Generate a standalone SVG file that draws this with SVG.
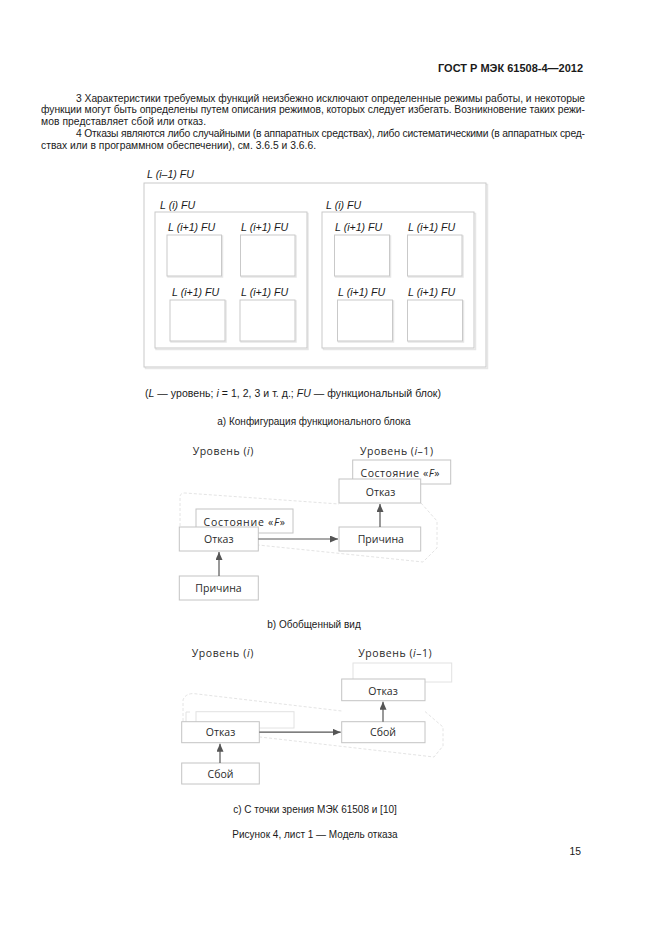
<svg xmlns="http://www.w3.org/2000/svg" width="661" height="935" viewBox="0 0 661 935">
<defs>
<style>
.t{font-family:"Liberation Sans",Arial,sans-serif;fill:#1a1a1a}
.p{font-size:10.3px}
.h{font-size:10.5px;font-weight:bold}
.c{font-size:10px}
.lg{font-size:10.5px}
.fu{font-family:"Liberation Sans",Arial,sans-serif;font-size:10.6px;font-style:italic;fill:#1a1a1a}
.box{fill:#fff;stroke:#c9c9c9;stroke-width:1}
.sh{fill:none;stroke:#e6e6e6;stroke-width:1.5}
.nb{fill:#fff;stroke:#c4c4c4;stroke-width:1}
.nt{font-family:"Open Sans","Noto Sans","DejaVu Sans",sans-serif;font-size:10.5px;fill:#2a2a2a;text-anchor:middle}
.lv{font-family:"Open Sans","Noto Sans","DejaVu Sans",sans-serif;font-size:10.5px;fill:#2a2a2a}
.ghost{fill:none;stroke:#e2e2e2;stroke-width:1}
.dash{fill:none;stroke:#e4e4e4;stroke-width:1;stroke-dasharray:3 2}
.ar{fill:none;stroke:#555;stroke-width:1.2}
</style>
<marker id="ah" markerWidth="8" markerHeight="7" refX="8" refY="3.5" orient="auto" markerUnits="userSpaceOnUse">
<path d="M0,0 L8,3.5 L0,7 z" fill="#555"/>
</marker>
</defs>
<rect width="661" height="935" fill="#fff"/>

<g id="header">
<text class="t h" x="583" y="72" text-anchor="end" textLength="145" lengthAdjust="spacingAndGlyphs">ГОСТ Р МЭК 61508-4—2012</text>
</g>
<g id="notes">
<text class="t p" x="76" y="101.5" textLength="509" lengthAdjust="spacing">3 Характеристики требуемых функций неизбежно исключают определенные режимы работы, и некоторые</text>
<text class="t p" x="41" y="113" textLength="544" lengthAdjust="spacing">функции могут быть определены путем описания режимов, которых следует избегать. Возникновение таких режи-</text>
<text class="t p" x="41" y="125" textLength="165" lengthAdjust="spacing">мов представляет сбой или отказ.</text>
<text class="t p" x="76" y="136.5" textLength="509" lengthAdjust="spacing">4 Отказы являются либо случайными (в аппаратных средствах), либо систематическими (в аппаратных сред-</text>
<text class="t p" x="41" y="148.5" textLength="275" lengthAdjust="spacing">ствах или в программном обеспечении), см. 3.6.5 и 3.6.6.</text>
</g>

<g id="fu-outer">
<rect class="sh" x="145.5" y="184.5" width="342" height="184"/>
<rect class="box" x="144" y="183" width="342" height="184"/>
<text class="fu" x="147" y="178">L (i–1) FU</text>
</g>
<g id="fu-left">
<rect class="sh" x="156" y="213.5" width="152" height="136"/>
<rect class="box" x="155" y="212" width="152" height="136"/>
<text class="fu" x="160" y="208.5">L (i) FU</text>
</g>
<g id="fu-right">
<rect class="sh" x="323.5" y="213.5" width="152" height="136"/>
<rect class="box" x="322" y="212" width="152" height="136"/>
<text class="fu" x="326" y="208.5">L (i) FU</text>
</g>
<g id="fu-l1">
<rect class="sh" x="168" y="236" width="54.5" height="41"/>
<rect class="box" x="167" y="235" width="54.5" height="41"/>
<text class="fu" x="168" y="230.5">L (i+1) FU</text>
</g>
<g id="fu-l2">
<rect class="sh" x="241.5" y="236" width="54.5" height="41"/>
<rect class="box" x="240.5" y="235" width="54.5" height="41"/>
<text class="fu" x="241" y="230.5">L (i+1) FU</text>
</g>
<g id="fu-l3">
<rect class="sh" x="171" y="301" width="55" height="41"/>
<rect class="box" x="170" y="300" width="55" height="41"/>
<text class="fu" x="172" y="295.5">L (i+1) FU</text>
</g>
<g id="fu-l4">
<rect class="sh" x="241" y="301" width="55" height="41"/>
<rect class="box" x="240" y="300" width="55" height="41"/>
<text class="fu" x="241" y="295.5">L (i+1) FU</text>
</g>
<g id="fu-r1">
<rect class="sh" x="335.5" y="236" width="55" height="41"/>
<rect class="box" x="334.5" y="235" width="55" height="41"/>
<text class="fu" x="335" y="230.5">L (i+1) FU</text>
</g>
<g id="fu-r2">
<rect class="sh" x="408.5" y="236" width="54.5" height="41"/>
<rect class="box" x="407.5" y="235" width="54.5" height="41"/>
<text class="fu" x="408" y="230.5">L (i+1) FU</text>
</g>
<g id="fu-r3">
<rect class="sh" x="338.5" y="301" width="55" height="41"/>
<rect class="box" x="337.5" y="300" width="55" height="41"/>
<text class="fu" x="338" y="295.5">L (i+1) FU</text>
</g>
<g id="fu-r4">
<rect class="sh" x="408.5" y="301" width="55" height="41"/>
<rect class="box" x="407.5" y="300" width="55" height="41"/>
<text class="fu" x="408" y="295.5">L (i+1) FU</text>
</g>
<g id="caption-a">
<text class="t lg" x="145" y="396.5" textLength="296" lengthAdjust="spacing">(<tspan font-style="italic">L</tspan> — уровень; <tspan font-style="italic">i</tspan> = 1, 2, 3 и т. д.; <tspan font-style="italic">FU</tspan> — функциональный блок)</text>
<text class="t c" x="314" y="424.5" text-anchor="middle">а) Конфигурация функционального блока</text>
</g>

<g id="b-ghost">
<path class="dash" d="M180,526 L180,497 Q180,493 185,493 L339,504"/>
<path class="dash" d="M421,503 L437,521 L437,548 L423,562 L258,545"/>
</g>
<g id="b-levels">
<text class="lv" x="192.7" y="454.5" textLength="60.6">Уровень (<tspan font-style="italic">i</tspan>)</text>
<text class="lv" x="360" y="454.5" textLength="73">Уровень (<tspan font-style="italic">i</tspan>–1)</text>
</g>
<g id="b-state-up">
<rect class="nb" x="352.7" y="460" width="98" height="24"/>
<text class="nt" x="400" y="477" textLength="79">Состояние «<tspan font-style="italic">F</tspan>»</text>
</g>
<g id="b-fail-up">
<rect class="nb" x="339" y="479" width="81.7" height="24"/>
<text class="nt" x="380.5" y="495.5">Отказ</text>
</g>
<g id="b-state-left">
<rect class="nb" x="196" y="509" width="97" height="24"/>
<text class="nt" x="244.3" y="525.5" textLength="81.5">Состояние «<tspan font-style="italic">F</tspan>»</text>
</g>
<g id="b-fail-left">
<rect class="nb" x="179.3" y="527" width="79" height="24"/>
<text class="nt" x="218.8" y="543">Отказ</text>
</g>
<g id="b-cause-right">
<rect class="nb" x="339" y="527" width="81.7" height="24"/>
<text class="nt" x="380.8" y="543">Причина</text>
</g>
<g id="b-cause-left">
<rect class="nb" x="179.3" y="576" width="79" height="24"/>
<text class="nt" x="218.5" y="591.5">Причина</text>
</g>
<g id="connectors-b">
<line class="ar" x1="258.3" y1="539" x2="338" y2="539" marker-end="url(#ah)"/>
<line class="ar" x1="380" y1="527" x2="380" y2="504" marker-end="url(#ah)"/>
<line class="ar" x1="219" y1="576" x2="219" y2="552" marker-end="url(#ah)"/>
</g>
<g id="caption-b">
<text class="t c" x="314" y="628" text-anchor="middle">b) Обобщенный вид</text>
</g>

<g id="c-ghost">
<rect class="ghost" x="353" y="663" width="98.7" height="19"/>
<rect class="ghost" x="196" y="711.7" width="98" height="16.3"/>
<path class="ghost" d="M186,722 L186,712 L190,712"/>
<path class="dash" d="M183,721 L183,700 Q185,694 193,693.5 L341.7,711"/>
<path class="dash" d="M425,711.5 L443,727 L443,746 L434,757 L260,737"/>
</g>
<g id="c-levels">
<text class="lv" x="191.7" y="657" textLength="61.6">Уровень (<tspan font-style="italic">i</tspan>)</text>
<text class="lv" x="358.3" y="657" textLength="73.4">Уровень (<tspan font-style="italic">i</tspan>–1)</text>
</g>
<g id="c-fail-up">
<rect class="nb" x="341.7" y="679" width="83.3" height="21.7"/>
<text class="nt" x="383" y="694.5">Отказ</text>
</g>
<g id="c-fault-right">
<rect class="nb" x="341.7" y="721.7" width="83.3" height="21"/>
<text class="nt" x="383" y="736">Сбой</text>
</g>
<g id="c-fail-left">
<rect class="nb" x="181.7" y="721.7" width="77.6" height="21"/>
<text class="nt" x="220.5" y="736">Отказ</text>
</g>
<g id="c-fault-left">
<rect class="nb" x="181.7" y="763" width="77.6" height="21"/>
<text class="nt" x="220.5" y="777.8">Сбой</text>
</g>
<g id="connectors-c">
<line class="ar" x1="259.3" y1="732.2" x2="340.7" y2="732.2" marker-end="url(#ah)"/>
<line class="ar" x1="383" y1="721.7" x2="383" y2="701.7" marker-end="url(#ah)"/>
<line class="ar" x1="220" y1="763" x2="220" y2="743.7" marker-end="url(#ah)"/>
</g>
<g id="caption-c">
<text class="t c" x="315" y="813" text-anchor="middle">с) С точки зрения МЭК 61508 и [10]</text>
<text class="t c" x="315" y="837.5" text-anchor="middle">Рисунок 4, лист 1 — Модель отказа</text>
</g>
<g id="page-number">
<text class="t p" x="581" y="855" text-anchor="end">15</text>
</g>
</svg>
